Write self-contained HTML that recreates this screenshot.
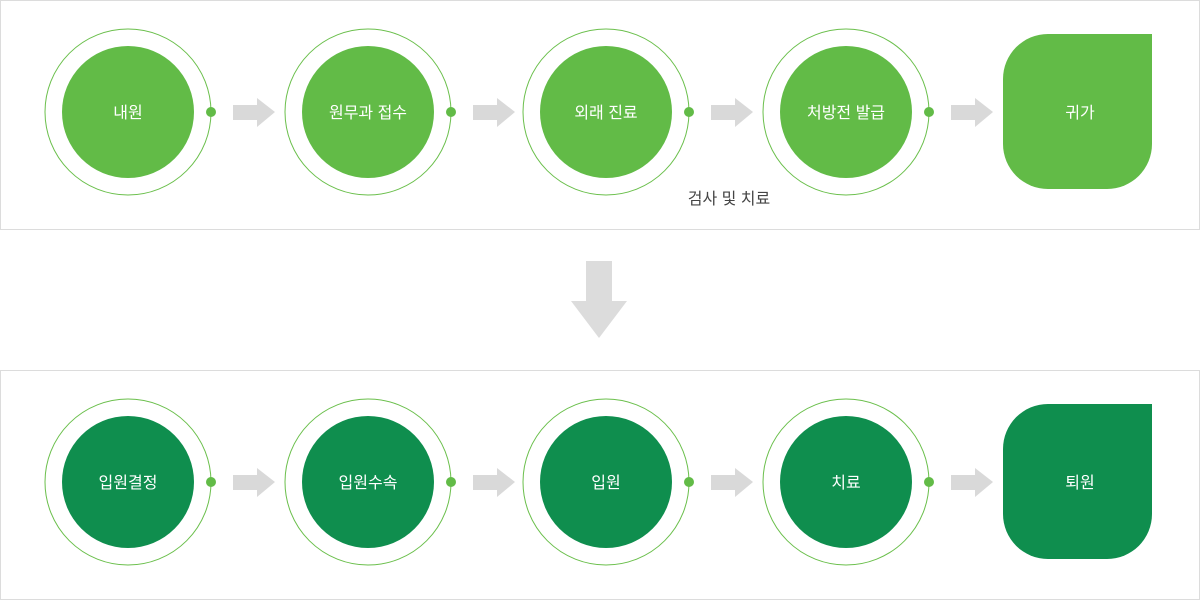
<!DOCTYPE html>
<html><head><meta charset="utf-8"><style>
body{margin:0;width:1200px;height:600px;background:#fff;overflow:hidden}
</style></head><body>
<svg width="1200" height="600" xmlns="http://www.w3.org/2000/svg" font-family="'Liberation Sans','Noto Sans CJK KR',sans-serif">
<rect x="0.5" y="0.5" width="1199" height="229" fill="#fff" stroke="#dcdcdc"/>
<rect x="0.5" y="370.5" width="1199" height="229" fill="#fff" stroke="#dcdcdc"/>
<g id="row1">
<g fill="none" stroke="#6abf4b" stroke-width="1">
<circle cx="128" cy="112" r="83"/><circle cx="368" cy="112" r="83"/><circle cx="606" cy="112" r="83"/><circle cx="846" cy="112" r="83"/>
</g>
<g fill="#62bb47">
<circle cx="128" cy="112" r="66"/><circle cx="368" cy="112" r="66"/><circle cx="606" cy="112" r="66"/><circle cx="846" cy="112" r="66"/>
<circle cx="211" cy="112" r="5"/><circle cx="451" cy="112" r="5"/><circle cx="689" cy="112" r="5"/><circle cx="929" cy="112" r="5"/>
<path d="M1048 34H1152V144A45 45 0 0 1 1107 189H1048A45 45 0 0 1 1003 144V79A45 45 0 0 1 1048 34Z"/>
</g>
<g fill="#d9d9d9">
<path d="M233 105H257V98L275 112L257 127V120H233Z"/>
<path d="M473 105H497V98L515 112L497 127V120H473Z"/>
<path d="M711 105H735V98L753 112L735 127V120H711Z"/>
<path d="M951 105H975V98L993 112L975 127V120H951Z"/>
</g>
<g fill="#fff" font-size="16" text-anchor="middle">
<text x="128" y="118">내원</text><text x="368" y="118">원무과 접수</text><text x="606" y="118">외래 진료</text><text x="846" y="118">처방전 발급</text><text x="1080" y="118">귀가</text>
</g>
<text x="729" y="204" font-size="16" fill="#444" text-anchor="middle">검사 및 치료</text>
</g>
<path d="M586 261H612V301H627L599 338L571 301H586Z" fill="#dcdcdc"/>
<g>
<g fill="none" stroke="#6abf4b" stroke-width="1">
<circle cx="128" cy="482" r="83"/><circle cx="368" cy="482" r="83"/><circle cx="606" cy="482" r="83"/><circle cx="846" cy="482" r="83"/>
</g>
<g fill="#0f8e4e">
<circle cx="128" cy="482" r="66"/><circle cx="368" cy="482" r="66"/><circle cx="606" cy="482" r="66"/><circle cx="846" cy="482" r="66"/>
<path d="M1048 404H1152V514A45 45 0 0 1 1107 559H1048A45 45 0 0 1 1003 514V449A45 45 0 0 1 1048 404Z"/>
</g>
<g fill="#62bb47">
<circle cx="211" cy="482" r="5"/><circle cx="451" cy="482" r="5"/><circle cx="689" cy="482" r="5"/><circle cx="929" cy="482" r="5"/>
</g>
<g fill="#d9d9d9">
<path d="M233 475H257V468L275 482L257 497V490H233Z"/>
<path d="M473 475H497V468L515 482L497 497V490H473Z"/>
<path d="M711 475H735V468L753 482L735 497V490H711Z"/>
<path d="M951 475H975V468L993 482L975 497V490H951Z"/>
</g>
<g fill="#fff" font-size="16" text-anchor="middle">
<text x="128" y="488">입원결정</text><text x="368" y="488">입원수속</text><text x="606" y="488">입원</text><text x="846" y="488">치료</text><text x="1080" y="488">퇴원</text>
</g>
</g>
</svg>
</body></html>
